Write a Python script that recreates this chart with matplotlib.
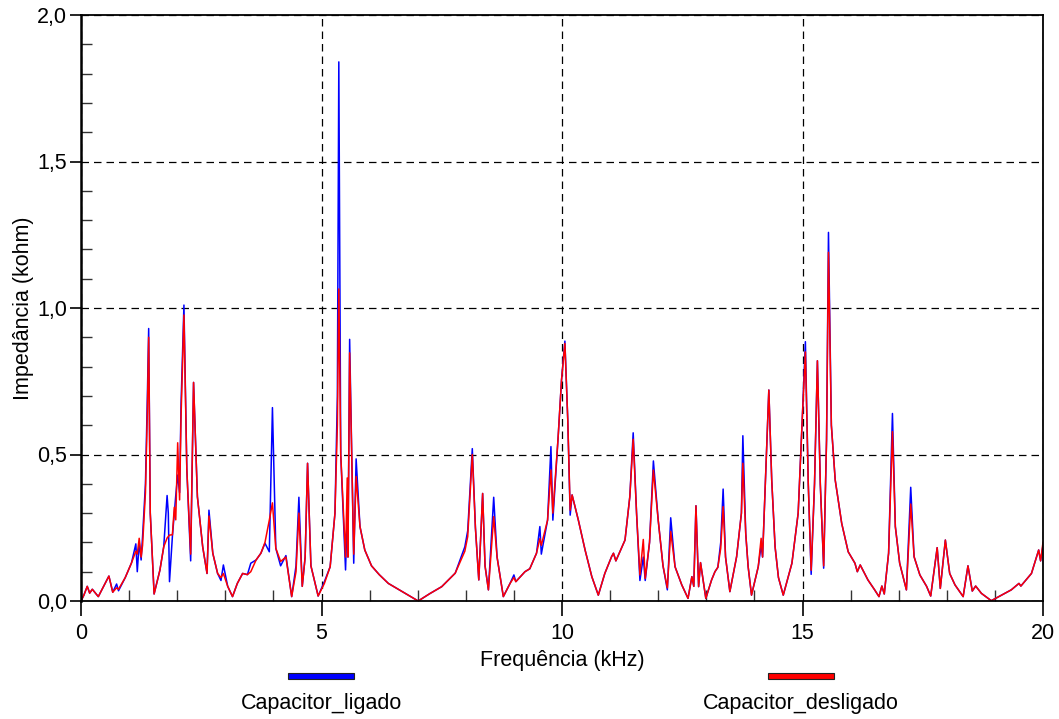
import numpy as np
import matplotlib.pyplot as plt
from matplotlib.patches import Rectangle
from matplotlib.ticker import MultipleLocator, FuncFormatter

plt.rcParams['font.family'] = ['Liberation Sans', 'DejaVu Sans']

# frequencia (kHz) e impedancia (kohm) das duas medicoes
freq = [0.00, 0.06, 0.13, 0.18, 0.235, 0.36, 0.47, 0.58, 0.66, 0.74, 0.78, 0.92, 1.05,
        1.14, 1.17, 1.21, 1.25, 1.28, 1.34, 1.38, 1.407, 1.44, 1.52, 1.64, 1.72, 1.79,
        1.815, 1.84, 1.90, 1.94, 1.97, 2.01, 2.05, 2.08, 2.14, 2.20, 2.28, 2.34, 2.42,
        2.53, 2.62, 2.66, 2.74, 2.84, 2.91, 2.96, 3.05, 3.15, 3.25, 3.36, 3.46, 3.53,
        3.64, 3.74, 3.825, 3.915, 3.98, 4.05, 4.15, 4.26, 4.38, 4.47, 4.53, 4.60, 4.66,
        4.71, 4.78, 4.93, 5.06, 5.18, 5.28, 5.33, 5.36, 5.40, 5.50, 5.535, 5.55, 5.585,
        5.67, 5.72, 5.80, 5.90, 6.04, 6.20, 6.39, 6.70, 7.01, 7.25, 7.50, 7.78, 7.98,
        8.04, 8.135, 8.20, 8.27, 8.35, 8.40, 8.47, 8.58, 8.65, 8.78, 8.92, 9.00, 9.04,
        9.23, 9.33, 9.47, 9.54, 9.57, 9.70, 9.77, 9.81, 9.92, 9.99, 10.06, 10.12, 10.17,
        10.21, 10.34, 10.48, 10.62, 10.755, 10.89, 11.03, 11.07, 11.12, 11.31, 11.41,
        11.48, 11.55, 11.62, 11.69, 11.73, 11.82, 11.90, 12.00, 12.10, 12.19, 12.26,
        12.35, 12.49, 12.62, 12.70, 12.74, 12.785, 12.84, 12.88, 12.99, 13.11, 13.18,
        13.24, 13.30, 13.35, 13.40, 13.49, 13.63, 13.73, 13.76, 13.82, 13.87, 13.94,
        14.08, 14.14, 14.17, 14.23, 14.30, 14.36, 14.43, 14.50, 14.60, 14.78, 14.91, 15.00,
        15.06, 15.12, 15.18, 15.25, 15.31, 15.37, 15.44, 15.50, 15.54, 15.60, 15.68,
        15.815, 15.95, 16.09, 16.14, 16.20, 16.36, 16.50, 16.59, 16.65, 16.70, 16.79,
        16.87, 16.93, 17.02, 17.16, 17.25, 17.32, 17.44, 17.58, 17.665, 17.80, 17.865,
        17.97, 18.06, 18.17, 18.34, 18.44, 18.53, 18.60, 18.72, 18.925, 19.34, 19.50,
        19.54, 19.76, 19.91, 19.95, 20.00]

z_ligado = [0.00, 0.02, 0.05, 0.027, 0.04, 0.015, 0.05, 0.085, 0.03, 0.058, 0.035, 0.08, 0.13,
            0.195, 0.10, 0.20, 0.14, 0.22, 0.40, 0.70, 0.93, 0.30, 0.024, 0.105, 0.185, 0.36,
            0.30, 0.066, 0.22, 0.30, 0.36, 0.43, 0.37, 0.67, 1.01, 0.45, 0.137, 0.746, 0.356,
            0.185, 0.094, 0.31, 0.163, 0.094, 0.07, 0.123, 0.05, 0.015, 0.06, 0.094, 0.09, 0.129,
            0.14, 0.163, 0.197, 0.168, 0.66, 0.18, 0.12, 0.155, 0.015, 0.12, 0.354, 0.05, 0.15,
            0.47, 0.12, 0.017, 0.066, 0.117, 0.30, 0.70, 1.84, 0.50, 0.106, 0.30, 0.15, 0.893,
            0.129, 0.485, 0.254, 0.174, 0.12, 0.09, 0.06, 0.03, 0.00, 0.025, 0.049, 0.095, 0.185,
            0.24, 0.52, 0.25, 0.072, 0.367, 0.12, 0.038, 0.354, 0.15, 0.015, 0.06, 0.089, 0.066,
            0.10, 0.11, 0.163, 0.254, 0.16, 0.276, 0.527, 0.276, 0.56, 0.754, 0.887, 0.618, 0.293,
            0.362, 0.276, 0.174, 0.083, 0.02, 0.094, 0.151, 0.163, 0.137, 0.208, 0.356,
            0.574, 0.30, 0.07, 0.15, 0.07, 0.20, 0.478, 0.276, 0.12, 0.038, 0.284,
            0.117, 0.055, 0.009, 0.083, 0.05, 0.325, 0.049, 0.131, 0.009, 0.072, 0.10,
            0.115, 0.20, 0.382, 0.15, 0.032, 0.151, 0.30, 0.564, 0.23, 0.117, 0.02,
            0.117, 0.19, 0.15, 0.413, 0.72, 0.413, 0.185, 0.08, 0.02, 0.129, 0.30, 0.64,
            0.885, 0.40, 0.091, 0.40, 0.82, 0.40, 0.112, 0.55, 1.258, 0.60, 0.413,
            0.265, 0.168, 0.129, 0.10, 0.123, 0.072, 0.038, 0.015, 0.051, 0.024, 0.163,
            0.64, 0.254, 0.129, 0.038, 0.388, 0.151, 0.089, 0.05, 0.017, 0.182, 0.043,
            0.208, 0.094, 0.055, 0.015, 0.12, 0.034, 0.051, 0.026, 0.001, 0.038, 0.06,
            0.051, 0.094, 0.174, 0.137, 0.19]

z_desligado = [0.00, 0.02, 0.05, 0.027, 0.04, 0.015, 0.05, 0.085, 0.03, 0.045, 0.04, 0.08, 0.13,
               0.17, 0.16, 0.214, 0.15, 0.19, 0.37, 0.65, 0.90, 0.30, 0.024, 0.105, 0.185, 0.215,
               0.22, 0.225, 0.226, 0.32, 0.277, 0.54, 0.345, 0.63, 0.976, 0.45, 0.16, 0.746, 0.356,
               0.185, 0.094, 0.29, 0.163, 0.094, 0.08, 0.094, 0.05, 0.015, 0.06, 0.094, 0.09, 0.10,
               0.14, 0.163, 0.20, 0.276, 0.335, 0.18, 0.135, 0.15, 0.015, 0.10, 0.30, 0.05, 0.15,
               0.47, 0.12, 0.017, 0.06, 0.117, 0.30, 0.60, 1.065, 0.50, 0.15, 0.42, 0.15, 0.847,
               0.16, 0.425, 0.254, 0.174, 0.12, 0.09, 0.06, 0.03, 0.00, 0.025, 0.049, 0.095, 0.17,
               0.22, 0.50, 0.25, 0.072, 0.367, 0.12, 0.038, 0.288, 0.15, 0.015, 0.06, 0.08, 0.066,
               0.10, 0.11, 0.163, 0.213, 0.19, 0.276, 0.447, 0.30, 0.56, 0.754, 0.879, 0.618, 0.31,
               0.362, 0.276, 0.174, 0.083, 0.02, 0.094, 0.151, 0.163, 0.137, 0.208, 0.356,
               0.552, 0.30, 0.089, 0.21, 0.077, 0.20, 0.447, 0.276, 0.12, 0.045, 0.237,
               0.117, 0.055, 0.009, 0.083, 0.05, 0.325, 0.049, 0.131, 0.009, 0.072, 0.10,
               0.115, 0.18, 0.322, 0.15, 0.032, 0.151, 0.30, 0.47, 0.23, 0.117, 0.02,
               0.117, 0.214, 0.15, 0.413, 0.72, 0.413, 0.185, 0.08, 0.02, 0.129, 0.30, 0.64,
               0.85, 0.40, 0.105, 0.40, 0.82, 0.40, 0.12, 0.55, 1.19, 0.60, 0.413,
               0.265, 0.168, 0.129, 0.10, 0.123, 0.072, 0.038, 0.015, 0.051, 0.024, 0.163,
               0.578, 0.254, 0.129, 0.038, 0.331, 0.151, 0.089, 0.05, 0.017, 0.182, 0.043,
               0.208, 0.094, 0.055, 0.015, 0.12, 0.034, 0.051, 0.026, 0.001, 0.038, 0.06,
               0.051, 0.094, 0.174, 0.137, 0.20]

series_names = ['Capacitor_ligado', 'Capacitor_desligado']
series_colors = ['#0000ff', '#ff0000']

fs = 15.5

fig = plt.figure(figsize=(10.59, 7.19), dpi=100)
ax = fig.add_axes([81 / 1059, 1 - 601 / 719, (1043 - 81) / 1059, (601 - 15) / 719])

ax.plot(freq, z_ligado, color=series_colors[0], lw=1.1)
ax.plot(freq, z_desligado, color=series_colors[1], lw=1.1)

ax.set_xlim(0, 20)
ax.set_ylim(0, 2.0)

ax.xaxis.set_major_locator(MultipleLocator(5))
ax.xaxis.set_minor_locator(MultipleLocator(1))
ax.yaxis.set_major_locator(MultipleLocator(0.5))
ax.yaxis.set_minor_locator(MultipleLocator(0.1))
ax.yaxis.set_major_formatter(FuncFormatter(lambda v, p: f'{v:.1f}'.replace('.', ',')))
ax.xaxis.set_major_formatter(FuncFormatter(lambda v, p: f'{v:.0f}'))

ax.tick_params(which='major', direction='out', width=1.2, labelsize=fs)
ax.tick_params(axis='x', which='major', length=11, pad=5)
ax.tick_params(axis='y', which='major', length=8, pad=2)
ax.tick_params(which='minor', direction='in', length=8, width=1.0, color='#333333')
ax.grid(True, which='major', linestyle=(0, (6, 4)), color='black', lw=0.9)

for side in ['left', 'right', 'top', 'bottom']:
    ax.spines[side].set_linewidth(1.3)
ax.spines['left'].set_linewidth(1.8)

ax.set_xlabel('Frequência (kHz)', fontsize=fs, labelpad=4)
ax.set_ylabel('Impedância (kohm)', fontsize=fs, labelpad=2)

# legenda abaixo do eixo: amostra da cor com o nome embaixo
for cx, name, col in zip([321, 801], series_names, series_colors):
    fig.add_artist(Rectangle(((cx - 33) / 1059, 1 - 679 / 719), 66 / 1059, 6 / 719,
                             transform=fig.transFigure, facecolor=col,
                             edgecolor='#222222', lw=0.8))
    fig.text(cx / 1059, 1 - 704 / 719, name, ha='center', va='center', fontsize=fs)

fig.savefig('out.png', dpi=100)
